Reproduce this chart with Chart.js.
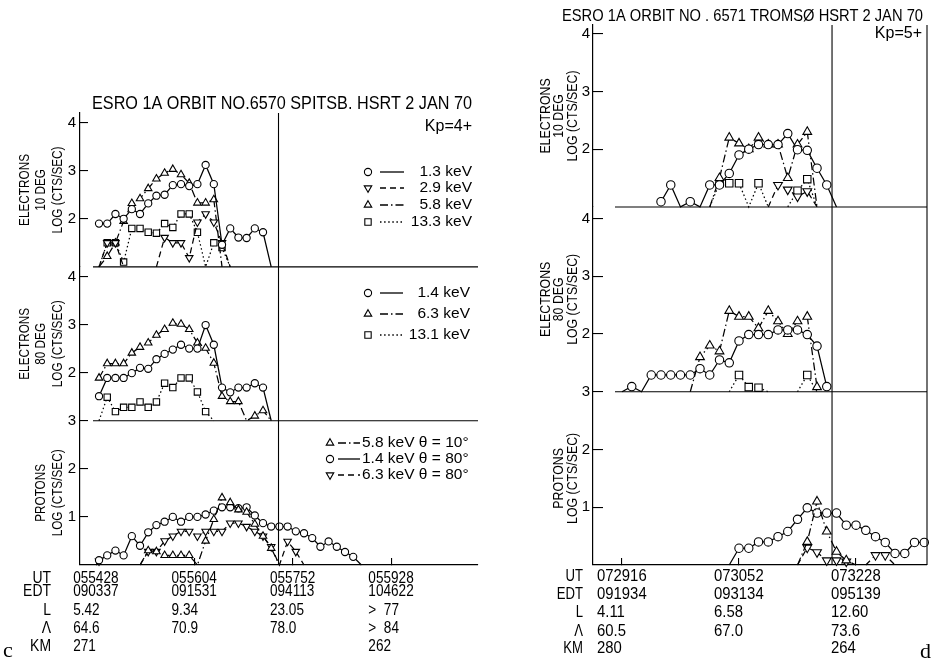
<!DOCTYPE html>
<html>
<head>
<meta charset="utf-8">
<title>ESRO 1A orbits 6570 / 6571</title>
<script src="https://cdn.jsdelivr.net/npm/chart.js@4.4.1/dist/chart.umd.min.js"></script>
<style>
  html, body { margin: 0; padding: 0; background: #fff; }
  #page { position: relative; width: 942px; height: 662px; overflow: hidden; }
  #cL { position: absolute; left: 0; top: 0; }
  #cR { position: absolute; left: 540px; top: 0; }
</style>
</head>
<body>
<div id="page">
  <canvas id="cL" width="540" height="662"></canvas>
  <canvas id="cR" width="402" height="662"></canvas>
</div>
<script>
const SANS = "'Liberation Sans', Arimo, Arial, sans-serif";
const SERIF = "'Liberation Serif', 'DejaVu Serif', serif";

const rowNames = ['UT', 'EDT', 'L', '\u039B', 'KM'];

// ---- panel c : orbit 6570, Spitsbergen ----
const titleC = 'ESRO 1A ORBIT NO.6570 SPITSB. HSRT 2 JAN 70';
const kpC = 'Kp=4+';
const tickPosC = [-0.35, 11.65, 23.65, 35.65];   // sample number of each time mark
const utC = ['055428', '055604', '055752', '055928'];
const edtC = ['090337', '091531', '094113', '104622'];
const shellC = ['5.42', '9.34', '23.05', '>  77'];
const latC = ['64.6', '70.9', '78.0', '>  84'];
const kmC = ['271', '', '', '262'];

// log counts, one value per 8 s sample; the axis minimum means below threshold
const c10e13 = [1.9, 1.9, 2.1, 2.0, 2.2, 2.1, 2.32, 2.48, 2.5, 2.7, 2.72, 2.68, 2.72, 3.12, 2.72, 1.46, 1.8, 1.61, 1.6, 1.8, 1.72, 1];
const c10e29 = [1, 1.5, 1.5, 1, null, null, null, 1, 1.61, 1.5, 1.5, 1.19, 1.93, 2.1, 1.93, 1.5, 1];
const c10e58 = [1, 1.22, 1.5, 1.95, 2.32, 2.42, 2.63, 2.83, 2.95, 3.03, 2.92, 2.74, 2.33, 2.33, 2.4, 1];
const c10e133 = [1, 1.5, 1.5, 1.1, 1.8, 1.8, 1.72, 1.7, 1.9, 1.82, 2.1, 2.1, 1.72, 1, 1.5, 1.4, 1];
const c80e14 = [1.51, 1.89, 1.89, 1.89, 1.99, 2.1, 2.08, 2.28, 2.39, 2.48, 2.58, 2.5, 2.5, 2.99, 2.58, 1.69, 1.59, 1.69, 1.69, 1.78, 1.69, 1];
const c80e63 = [1.89, 2.19, 2.19, 2.19, 2.41, 2.53, 2.62, 2.78, 2.9, 3.03, 3.01, 2.9, 2.62, 2.51, 2.2, 1.51, 1.4, 1.4, 1, 1.1, 1.21, 1];
const c80e131 = [1, 1.49, 1.19, 1.28, 1.28, 1.39, 1.28, 1.39, 1.78, 1.69, 1.89, 1.89, 1.6, 1.19, 1];
const cp58 = [0, 0.3, 0.28, 0.2, 0.2, 0.2, 0.2, 0, 0.5, 0.95, 1.4, 1.3, 1.15, 1.1, 0.85, 0.6, 0.35, 0];   // from sample 5
const cp14 = [0.1, 0.2, 0.3, 0.2, 0.6, 0.4, 0.68, 0.83, 0.9, 1.0, 0.9, 1.0, 1.0, 1.05, 1.13, 1.2, 1.2, 1.18, 1.2, 1.03, 0.87, 0.8, 0.8, 0.8, 0.7, 0.66, 0.56, 0.38, 0.49, 0.38, 0.27, 0.17, 0];
const cp63 = [0.08, null, null, null, null, 0, 0.28, 0.28, 0.5, 0.6, 0.7, 0.7, 0.6, 0.7, 0.7, 0.7, 0.87, 0.87, 0.8, 0.7, 0.6, 0.38, 0, 0.49, 0.28, 0];

// ---- panel d : orbit 6571, Tromso ----
const titleD = 'ESRO 1A ORBIT NO . 6571 TROMS\u00D8 HSRT 2 JAN 70';
const kpD = 'Kp=5+';
const tickPosD = [0, 12, 24];
const utD = ['072916', '073052', '073228'];
const edtD = ['091934', '093134', '095139'];
const shellD = ['4.11', '6.58', '12.60'];
const latD = ['60.5', '67.0', '73.6'];
const kmD = ['280', '', '264'];

const d10e13 = [1.09, 1.38, 1, 1.09, 1, 1.38, 1.38, 1.58, 1.9, 2.0, 2.08, 2.08, 2.08, 2.27, 1.99, 1.98, 1.67, 1.38, 1];   // from sample 4
const d10e29 = [1, 1.38, 1.3, 1.18, 1.27, 1];                                   // from 15
const d10e58 = [1, 1.5, 2.2, 2.1, 2.0, 2.2, 2.08, 2.08, 1.5, 2.08, 2.3, 1];     // from 9
const d10e133 = [1, 1.41, 1.41, 1.41, 1, 1.41, 1, null, 1, 1.28, 1.48, 1];      // from 9
const d80e14 = [1, 1.09, 1, 1.29, 1.29, 1.29, 1.29, 1.29, 1.4, 1.29, 1.55, 1.5, 1.88, 1.99, 1.99, 1.99, 2.07, 2.07, 2.07, 1.99, 1.79, 1.09];
const d80e63 = [1, 1.6, 1.8, 1.7, 2.4, 2.3, 2.3, 2.1, 2.4, 2.22, 2.0, 2.22, 2.3, 1.08];   // from 7
const d80e131 = [1, 1.29, 1.08, 1.07, 1, null, null, 1, 1.29, 1];               // from 11
const dp58 = [0, 0.4, 1.1, 0.58, 0.23, 0.08, 0];                                // from 18
const dp14 = [0, 0.29, 0.29, 0.4, 0.4, 0.49, 0.58, 0.79, 0.99, 0.9, 0.9, 0.9, 0.69, 0.69, 0.6, 0.49, 0.39, 0.2, 0.2, 0.39, 0.39];   // from 11
const dp63 = [0, 0.3, 0.22, 0.08, 0.08, 0.06, null, 0, 0.17, 0.17, 0];          // from 18

const DASH = { solid: [], dash: [6, 4], dashdot: [8, 3, 1.5, 3], dot: [1.5, 2.6] };
const MARK = {
  circle: { style: 'circle', rot: 0, k: 1 },
  down: { style: 'triangle', rot: 180, k: 1.2 },
  up: { style: 'triangle', rot: 0, k: 1.2 },
  square: { style: 'rect', rot: 0, k: 1.25 }
};

function drawText(ctx, s, x, y, o) {
  ctx.save();
  ctx.font = (o.size || 15) + 'px ' + (o.family || SANS);
  ctx.fillStyle = '#000';
  ctx.textBaseline = 'middle';
  ctx.textAlign = o.align || 'left';
  ctx.translate(x, y);
  if (o.rot) ctx.rotate(o.rot);
  const sx = o.width ? o.width / ctx.measureText(s).width : (o.sx || 1);
  ctx.scale(sx, 1);
  ctx.fillText(s, 0, 0);
  ctx.restore();
}

function rule(ctx, x0, y0, x1, y1) {
  ctx.beginPath();
  ctx.moveTo(x0, y0);
  ctx.lineTo(x1, y1);
  ctx.stroke();
}

function drawMark(ctx, kind, x, y, r) {
  const m = MARK[kind];
  const rad = r * m.k;
  ctx.beginPath();
  if (m.style === 'circle') {
    ctx.arc(x, y, rad, 0, Math.PI * 2);
  } else if (m.style === 'rect') {
    const h = rad * Math.SQRT1_2;
    ctx.rect(x - h, y - h, 2 * h, 2 * h);
  } else {
    let a = m.rot * Math.PI / 180;
    for (let k = 0; k < 3; k++) {
      const px = x + Math.sin(a) * rad, py = y - Math.cos(a) * rad;
      if (k === 0) ctx.moveTo(px, py); else ctx.lineTo(px, py);
      a += Math.PI * 2 / 3;
    }
    ctx.closePath();
  }
  ctx.fillStyle = '#fff';
  ctx.fill();
  ctx.lineWidth = 1.1;
  ctx.strokeStyle = '#000';
  ctx.stroke();
}

function makePanel(p) {
  const axisMin = {};
  p.axes.forEach(a => { axisMin[a.id] = a.min; });

  const scales = {
    x: {
      type: 'linear', position: 'bottom', min: p.xMin, max: p.xMax,
      afterBuildTicks: s => { s.ticks = p.tickPos.map(v => ({ value: v })); },
      afterFit: s => { s.height = p.xHeight; },
      ticks: { display: false },
      grid: { drawOnChartArea: false, drawTicks: true, tickLength: -7, color: '#000', lineWidth: 1.1 },
      border: { display: true, color: '#000', width: 1.2 }
    }
  };
  p.axes.forEach((a, i) => {
    scales[a.id] = {
      type: 'linear', position: 'left', stack: 'log', stackWeight: a.max - a.min,
      weight: p.axes.length - i, min: a.min, max: a.max,
      afterBuildTicks: s => { s.ticks = a.ticks.map(v => ({ value: v })); },
      afterFit: s => { s.width = p.yWidth; },
      ticks: { color: '#000', padding: p.tickPad, font: { family: SANS, size: p.tickFont }, callback: v => String(v) },
      grid: { drawOnChartArea: false, drawTicks: true, tickLength: p.tickLen, color: '#000', lineWidth: 1.1 },
      border: { display: true, color: '#000', width: 1.2 }
    };
  });

  const datasets = p.series.map(s => ({
    label: s.label,
    data: s.values.map((v, i) => ({ x: s.start + i, y: v })),
    yAxisID: s.axis,
    xAxisID: 'x',
    borderColor: '#000',
    borderWidth: 1.25,
    borderDash: DASH[s.line],
    pointStyle: MARK[s.mark].style,
    pointRotation: MARK[s.mark].rot,
    pointRadius: c => (c.raw && c.raw.y !== null && c.raw.y <= axisMin[s.axis]) ? 0 : p.r * MARK[s.mark].k,
    pointBackgroundColor: '#fff',
    pointBorderColor: '#000',
    pointBorderWidth: 1.1,
    fill: false,
    tension: 0,
    spanGaps: false,
    clip: false
  }));

  const ink = {
    id: 'ink',
    afterDraw(chart) {
      const ctx = chart.ctx, area = chart.chartArea, xs = chart.scales.x;
      ctx.save();
      ctx.strokeStyle = '#000';
      ctx.lineWidth = 1.1;
      // boundaries between the stacked plots
      p.axes.slice(0, -1).forEach(a => {
        const yb = chart.scales[a.id].bottom;
        rule(ctx, area.left + p.sepInset, yb, area.right, yb);
      });
      const xd = xs.getPixelForValue(p.divider);
      rule(ctx, xd, area.top, xd, area.bottom);
      if (p.frameRight) rule(ctx, area.right, area.top, area.right, area.bottom);

      // axis titles
      p.axes.forEach(a => {
        const sc = chart.scales[a.id];
        const yc = (sc.top + sc.bottom) / 2;
        const skip = p.titleCols.length - a.title.length;
        a.title.forEach((t, k) => drawText(ctx, t, p.titleCols[skip + k], yc,
          { size: p.titleSize, rot: -Math.PI / 2, align: 'center', sx: p.titleSx }));
      });

      // time / position table under the x axis
      const rows = [p.ut, p.edt, p.shell, p.lat, p.km];
      rows.forEach((row, r) => {
        const y = area.bottom + p.rowOffsets[r];
        drawText(ctx, rowNames[r], p.headerRight, y, { size: p.rowSize, align: 'right', sx: 0.82 });
        row.forEach((s, i) => {
          if (s) drawText(ctx, s, xs.getPixelForValue(p.tickPos[i]) + p.labelShift, y,
            { size: p.rowSize, sx: p.rowSx });
        });
      });

      // keys
      p.legends.forEach(L => {
        L.items.forEach((idx, k) => {
          const s = p.series[idx];
          const y = L.rows[k];
          ctx.lineWidth = 1.3;
          ctx.strokeStyle = '#000';
          ctx.setLineDash(DASH[s.line]);
          rule(ctx, L.lineX0, y, L.lineX1, y);
          ctx.setLineDash([]);
          drawMark(ctx, s.mark, L.markX, y, p.r);
          drawText(ctx, s.label, L.textX, y, { size: 15.5, align: L.align });
        });
      });

      drawText(ctx, p.title, p.titleX, p.titleY, { size: p.titleFont, width: p.titleW });
      drawText(ctx, p.kp, p.kpX, p.kpY, { size: 16, align: 'right' });
      drawText(ctx, p.letter, p.letterX, p.letterY, { size: 22, family: SERIF });
      ctx.restore();
    }
  };

  return new Chart(document.getElementById(p.canvas), {
    type: 'line',
    data: { datasets },
    options: {
      responsive: false,
      animation: false,
      devicePixelRatio: 1,
      events: [],
      layout: { padding: p.padding },
      scales,
      plugins: { legend: { display: false }, tooltip: { enabled: false }, title: { display: false } }
    },
    plugins: [ink]
  });
}

makePanel({
  canvas: 'cL', letter: 'c', letterX: 3, letterY: 651,
  title: titleC, titleX: 92, titleY: 104, titleW: 380, titleFont: 18,
  kp: kpC, kpX: 472, kpY: 127,
  xMin: -2.32, xMax: 46.22, divider: 21.89, tickPos: tickPosC,
  ut: utC, edt: edtC, shell: shellC, lat: latC, km: kmC,
  padding: { left: 0, top: 113, right: 62, bottom: 0 },
  yWidth: 80, xHeight: 97, tickPad: 12, tickLen: -8, tickFont: 15, r: 3.6,
  sepInset: 13, frameRight: false,
  titleCols: [25, 41.5, 58], titleSize: 14, titleSx: 0.84,
  rowOffsets: [13, 26, 45, 63, 81], headerRight: 51, labelShift: -23, rowSize: 17, rowSx: 0.8,
  axes: [
    { id: 'yT', min: 1, max: 4.2, ticks: [2, 3, 4], title: ['ELECTRONS', '10 DEG', 'LOG (CTS/SEC)'] },
    { id: 'yM', min: 1, max: 4.2, ticks: [2, 3, 4], title: ['ELECTRONS', '80 DEG', 'LOG (CTS/SEC)'] },
    { id: 'yB', min: 0, max: 3, ticks: [1, 2, 3], title: ['PROTONS', 'LOG (CTS/SEC)'] }
  ],
  series: [
    { label: '1.3 keV', axis: 'yT', start: 0, values: c10e13, line: 'solid', mark: 'circle' },
    { label: '2.9 keV', axis: 'yT', start: 0, values: c10e29, line: 'dash', mark: 'down' },
    { label: '5.8 keV', axis: 'yT', start: 0, values: c10e58, line: 'dashdot', mark: 'up' },
    { label: '13.3 keV', axis: 'yT', start: 0, values: c10e133, line: 'dot', mark: 'square' },
    { label: '1.4 keV', axis: 'yM', start: 0, values: c80e14, line: 'solid', mark: 'circle' },
    { label: '6.3 keV', axis: 'yM', start: 0, values: c80e63, line: 'dashdot', mark: 'up' },
    { label: '13.1 keV', axis: 'yM', start: 0, values: c80e131, line: 'dot', mark: 'square' },
    { label: '5.8 keV \u03B8 = 10\u00B0', axis: 'yB', start: 5, values: cp58, line: 'dashdot', mark: 'up' },
    { label: '1.4 keV \u03B8 = 80\u00B0', axis: 'yB', start: 0, values: cp14, line: 'solid', mark: 'circle' },
    { label: '6.3 keV \u03B8 = 80\u00B0', axis: 'yB', start: 0, values: cp63, line: 'dash', mark: 'down' }
  ],
  legends: [
    { items: [0, 1, 2, 3], rows: [172, 188, 205, 222], markX: 368, lineX0: 380, lineX1: 404, textX: 472, align: 'right' },
    { items: [4, 5, 6], rows: [293, 314, 335], markX: 368, lineX0: 380, lineX1: 403, textX: 470, align: 'right' },
    { items: [7, 8, 9], rows: [443, 459, 475], markX: 330, lineX0: 338, lineX1: 360, textX: 362, align: 'left' }
  ]
});

makePanel({
  canvas: 'cR', letter: 'd', letterX: 380, letterY: 652,
  title: titleD, titleX: 22, titleY: 16, titleW: 361, titleFont: 17,
  kp: kpD, kpX: 382, kpY: 34,
  xMin: -2.974, xMax: 31.28, divider: 21.54, tickPos: tickPosD,
  ut: utD, edt: edtD, shell: shellD, lat: latD, km: kmD,
  padding: { left: 0, top: 25, right: 15, bottom: 0 },
  yWidth: 53, xHeight: 97, tickPad: 13, tickLen: -10, tickFont: 15, r: 4.2,
  sepInset: 22, frameRight: true,
  titleCols: [6, 19.5, 33], titleSize: 14, titleSx: 0.88,
  rowOffsets: [12, 30, 48, 67, 84], headerRight: 43, labelShift: -25, rowSize: 16, rowSx: 0.93,
  axes: [
    { id: 'yT', min: 1, max: 4.15, ticks: [2, 3, 4], title: ['ELECTRONS', '10 DEG', 'LOG (CTS/SEC)'] },
    { id: 'yM', min: 1, max: 4.2, ticks: [2, 3, 4], title: ['ELECTRONS', '80 DEG', 'LOG (CTS/SEC)'] },
    { id: 'yB', min: 0, max: 3, ticks: [1, 2, 3], title: ['PROTONS', 'LOG (CTS/SEC)'] }
  ],
  series: [
    { label: '1.3 keV', axis: 'yT', start: 4, values: d10e13, line: 'solid', mark: 'circle' },
    { label: '2.9 keV', axis: 'yT', start: 15, values: d10e29, line: 'dash', mark: 'down' },
    { label: '5.8 keV', axis: 'yT', start: 9, values: d10e58, line: 'dashdot', mark: 'up' },
    { label: '13.3 keV', axis: 'yT', start: 9, values: d10e133, line: 'dot', mark: 'square' },
    { label: '1.4 keV', axis: 'yM', start: 0, values: d80e14, line: 'solid', mark: 'circle' },
    { label: '6.3 keV', axis: 'yM', start: 7, values: d80e63, line: 'dashdot', mark: 'up' },
    { label: '13.1 keV', axis: 'yM', start: 11, values: d80e131, line: 'dot', mark: 'square' },
    { label: '5.8 keV \u03B8 = 10\u00B0', axis: 'yB', start: 18, values: dp58, line: 'dashdot', mark: 'up' },
    { label: '1.4 keV \u03B8 = 80\u00B0', axis: 'yB', start: 11, values: dp14, line: 'solid', mark: 'circle' },
    { label: '6.3 keV \u03B8 = 80\u00B0', axis: 'yB', start: 18, values: dp63, line: 'dash', mark: 'down' }
  ],
  legends: []
});
</script>
</body>
</html>
